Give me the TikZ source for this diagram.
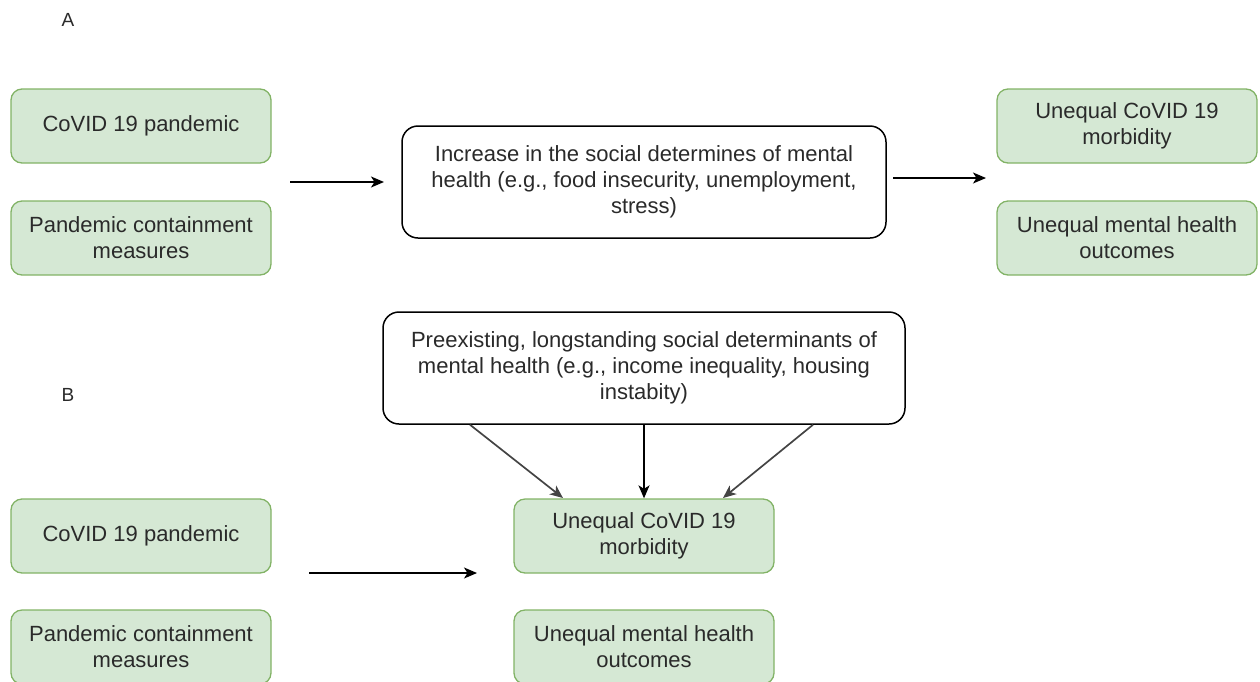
\documentclass[tikz,border=0pt]{standalone}
\usepackage{fontspec}
\setmainfont{Liberation Sans}
\usetikzlibrary{arrows.meta}
\definecolor{gfill}{HTML}{D5E8D4}
\definecolor{gline}{HTML}{82B366}
\definecolor{txt}{HTML}{2A2A2A}
\definecolor{darr}{HTML}{444444}
\begin{document}
\begin{tikzpicture}[x=1pt,y=-1pt,
  greenbox/.style={draw=gline,fill=gfill,line width=1.3pt,rounded corners=11pt,
    minimum width=260pt,minimum height=74pt,inner sep=0pt,align=center,
    text=txt,font=\fontsize{22}{26}\selectfont},
  whitebox/.style={draw=black,fill=white,line width=1.5pt,rounded corners=16pt,
    inner sep=0pt,align=center,text=txt,font=\fontsize{22}{26}\selectfont},
  conn/.style={line width=1.7pt,-{Stealth[length=13pt,width=11pt,inset=3.5pt]}},
  lab/.style={font=\fontsize{19}{22}\selectfont,text=txt}]
\useasboundingbox (0,0) rectangle (1260,681);
\clip (0,0) rectangle (1260,681);
\node[lab] (la) at (68,20) {A};
\node[lab] (lb) at (68,395) {B};
% Part A
\node[greenbox] (a1) at (141,126) {CoVID 19 pandemic};
\node[greenbox] (a2) at (141,238) {Pandemic containment\\measures};
\node[whitebox,minimum width=484pt,minimum height=112pt] (ac) at (644,182)
  {Increase in the social determines of mental\\health (e.g., food insecurity, unemployment,\\stress)};
\node[greenbox] (ar1) at (1127,126) {Unequal CoVID 19\\morbidity};
\node[greenbox] (ar2) at (1127,238) {Unequal mental health\\outcomes};
\coordinate (aS) at (290,182);
\coordinate (aE) at (384,182);
\draw[conn] (aS) -- (aE);
\coordinate (a2S) at (893,178);
\coordinate (a2E) at (986,178);
\draw[conn] (a2S) -- (a2E);
% Part B
\node[whitebox,minimum width=522pt,minimum height=112pt] (bt) at (644,368)
  {Preexisting, longstanding social determinants of\\mental health (e.g., income inequality, housing\\instabity)};
\node[greenbox] (b1) at (141,536) {CoVID 19 pandemic};
\node[greenbox] (b2) at (141,647) {Pandemic containment\\measures};
\node[greenbox] (bc1) at (644,536) {Unequal CoVID 19\\morbidity};
\node[greenbox] (bc2) at (644,647) {Unequal mental health\\outcomes};
\coordinate (bS) at (309,573);
\coordinate (bE) at (477,573);
\draw[conn] (bS) -- (bE);
\draw[conn,darr] (bt.south -| 470,0) -- (563,498);
\draw[conn] (bt.south) -- (bc1.north);
\draw[conn,darr] (bt.south -| 813,0) -- (723,498);
\end{tikzpicture}
\end{document}
